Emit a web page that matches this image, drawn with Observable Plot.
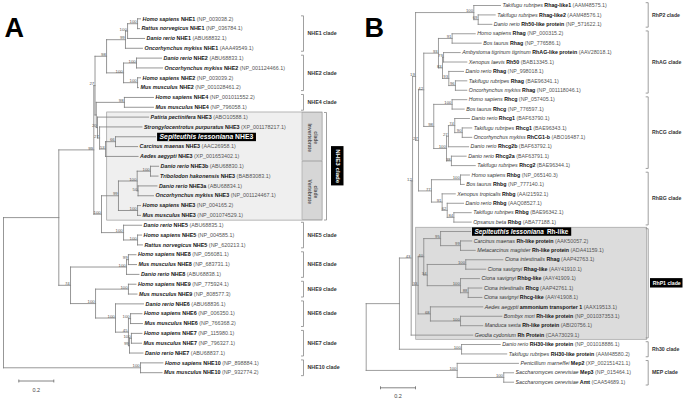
<!DOCTYPE html>
<html><head><meta charset="utf-8">
<script src="https://cdn.jsdelivr.net/npm/d3@7"></script>
<script src="https://cdn.jsdelivr.net/npm/@observablehq/plot@0.6"></script>
<style>
html,body{margin:0;padding:0;background:#fff;}
#wrap{position:relative;width:685px;height:403px;overflow:hidden;}
#wrap svg{position:absolute;top:0;}
</style></head><body><div id="wrap"></div>
<script>
// ---------- Panel A data ----------
const taxaA = [
["Homo sapiens","NHE1","NP_003038.2"],["Rattus norvegicus","NHE1","NP_036784.1"],["Danio rerio","NHE1","ABU68832.1"],["Oncorhynchus mykiss","NHE1","AAA49549.1"],
["Danio rerio","NHE2","ABU68833.1"],["Oncorhynchus mykiss","NHE2","NP_001124466.1"],["Homo sapiens","NHE2","NP_003039.2"],["Mus musculus","NHE2","NP_001028461.2"],
["Homo sapiens","NHE4","NP_001011552.2"],["Mus musculus","NHE4","NP_796058.1"],
["Patiria pectinifera","NHE3","ABO10588.1"],["Strongylocentrotus purpuratus","NHE3","XP_001178217.1"],["Sepiteuthis lessoniana","NHE3",""],["Carcinus maenas","NHE3","AAC26958.1"],["Aedes aegypti","NHE3","XP_001653402.1"],
["Danio rerio","NHE3b","ABU68830.1"],["Tribolodon hakonensis","NHE3","BAB83083.1"],["Danio rerio","NHE3a","ABU68834.1"],["Oncorhynchus mykiss","NHE3","NP_001124467.1"],["Homo sapiens","NHE3","NP_004165.2"],["Mus musculus","NHE3","NP_001074529.1"],
["Danio rerio","NHE5","ABU68835.1"],["Homo sapiens","NHE5","NP_004585.1"],["Rattus norvegicus","NHE5","NP_620213.1"],
["Homo sapiens","NHE8","NP_056081.1"],["Mus musculus","NHE8","NP_683731.1"],["Danio rerio","NHE8","ABU68838.1"],
["Homo sapiens","NHE9","NP_775924.1"],["Mus musculus","NHE9","NP_808577.3"],
["Danio rerio","NHE6","ABU68836.1"],["Homo sapiens","NHE6","NP_006350.1"],["Mus musculus","NHE6","NP_766368.2"],
["Homo sapiens","NHE7","NP_115980.1"],["Mus musculus","NHE7","NP_796327.1"],["Danio rerio","NHE7","ABU68837.1"],
["Homo sapiens","NHE10","NP_898884.1"],["Mus musculus","NHE10","NP_932774.2"]
];
const tipsA = [0.783,0.777,0.806,0.794,0.903,0.909,0.783,0.771,0.857,0.857,0.829,0.791,0.869,0.766,0.769,0.886,0.883,0.877,0.857,0.783,0.783,0.789,0.789,0.794,0.757,0.760,0.774,0.757,0.763,0.800,0.791,0.794,0.791,0.789,0.797,0.911,0.906];
const highlightA = 12;
// [id, depth, bootstrap, child1, child2]  (numbers = leaf index)
const nodesA = [
["a1",0.766,"100",0,1],["a2",0.709,"100","a1",2],["a3",0.697,"99","a2",3],
["b1",0.760,"100",4,5],["b2",0.766,"100",6,7],["b3",0.686,"100","b1","b2"],
["N12",0.589,"98","a3","b3"],["c1",0.691,"98",8,9],
["K1",0.640,"66",12,13],["K",0.583,"53","K1",14],["J",0.549,"27",11,"K"],["I",0.537,"20",10,"J"],
["Q",0.530,"","c1","I"],["T",0.523,"27","N12","Q"],
["v1",0.840,"100",15,16],["v2",0.769,"50",17,18],["v3",0.764,"100","v1","v2"],["v4",0.766,"100",19,20],["V",0.657,"99","v3","v4"],
["e1",0.766,"100",22,23],["E",0.686,"100",21,"e1"],["W",0.560,"100","V","E"],
["U",0.516,"99","T","W"],
["f1",0.714,"99",24,25],["F",0.703,"100","f1",26],["g",0.714,"100",27,28],
["h1",0.726,"100",30,31],["h2",0.731,"100",32,33],["h3",0.720,"99","h2",34],["h4",0.714,"45","h1","h3"],["H",0.640,"100",29,"h4"],
["G",0.526,"100","g","H"],["Lw",0.383,"74","F","G"],["Bg",0.316,"","U","Lw"],
["z",0.783,"100",35,36],["R",0,"","Bg","z"]
];
const cladesA = [["NHE1 clade",0,3],["NHE2 clade",4,7],["NHE4 clade",8,9],["NHE5 clade",21,23],["NHE8 clade",24,26],["NHE9 clade",27,28],["NHE6 clade",29,31],["NHE7 clade",32,34],["NHE10 clade",35,36]];
const nhe3A = ["NHE3 clade",10,20];
const subA = [["Invertebrate","clade",10,14],["Vertebrate","clade",15,20]];

// ---------- Panel B data ----------
const taxaB = [
["Takifugu rubripes","Rhag-like1","AAM48575.1"],["Takifugu rubripes","Rhag-like2","AAM48576.1"],["Danio rerio","Rh50-like protein","NP_571622.1"],
["Homo sapiens","Rhag","NP_000315.2"],["Bos taurus","Rhag","NP_776586.1"],["Ambystoma tigrinum tigrinum","RhAG-like protein","AAV28018.1"],["Xenopus laevis","Rh50","BAB13345.1"],["Danio rerio","Rhag","NP_998018.1"],["Takifugu rubripes","Rhag","BAE96341.1"],["Oncorhynchus mykiss","Rhag","NP_001118046.1"],
["Homo sapiens","Rhcg","NP_057405.1"],["Bos taurus","Rhcg","NP_776597.1"],["Danio rerio","Rhcg1","BAF63790.1"],["Takifugu rubripes","Rhcg1","BAE96343.1"],["Oncorhynchus mykiss","RhCG1-b","ABO16487.1"],["Danio rerio","Rhcg2b","BAF63792.1"],["Danio rerio","Rhcg2a","BAF63791.1"],["Takifugu rubripes","Rhcg2","BAE96344.1"],
["Homo sapiens","Rhbg","NP_065140.3"],["Bos taurus","Rhbg","NP_777140.1"],["Xenopus tropicalis","Rhbg","AAI21592.1"],["Danio rerio","Rhbg","AAQ08527.1"],["Takifugu rubripes","Rhbg","BAE96342.1"],["Opsanus beta","Rhbg","ABA77188.1"],
["Sepiteuthis lessoniana","Rh-like",""],["Carcinus maenas","Rh-like protein","AAK50057.2"],["Metacarcinus magister","Rh-like protein","ADA41159.1"],
["Ciona intestinalis","Rhag","AAP42763.1"],["Ciona savignyi","Rhag-like","AAY41910.1"],["Ciona savignyi","Rhbg-like","AAY41909.1"],["Ciona intestinalis","Rhcg","AAP42761.1"],["Ciona savignyi","Rhcg-like","AAY41908.1"],
["Aedes aegypti","ammonium transporter 1","AAX19513.1"],["Bombyx mori","Rh-like protein","NP_001037353.1"],["Manduca sexta","Rh-like protein","ABI20756.1"],["Geodia cydonium","Rh Protein","CAA73029.1"],
["Danio rerio","RH30-like protein","NP_001018886.1"],["Takifugu rubripes","RH30-like protein","AAM48580.2"],
["Penicillium marneffei","Mep2","XP_002151421.1"],["Saccharomyces cerevisiae","Mep3","NP_015464.1"],["Saccharomyces cerevisiae","Amt","CAA54689.1"]
];
const tipsB = [0.767,0.737,0.718,0.623,0.657,0.537,0.575,0.556,0.575,0.575,0.575,0.560,0.590,0.603,0.603,0.585,0.571,0.623,0.590,0.560,0.509,0.556,0.600,0.600,0.596,0.603,0.623,0.781,0.683,0.647,0.661,0.661,0.666,0.775,0.666,0.609,0.766,0.803,0.870,0.842,0.842];
const highlightB = 24;
const nodesB = [
["s1",0.640,"69",1,2],["P2",0.615,"100",0,"s1"],
["r1",0.491,"91",3,4],["r2",0.442,"79",5,6],["r3",0.510,"96",8,9],["r4",0.472,"93",7,"r3"],["r5",0.436,"83","r2","r4"],["AG",0.413,"93","r1","r5"],
["c1",0.491,"100",10,11],["c2",0.549,"90",13,14],["c3",0.506,"74",12,"c2"],["c4",0.470,"27","c3",15],["c5",0.487,"38",16,17],["c45",0.459,"100","c4","c5"],["CG",0.386,"98","c1","c45"],
["N42",0.329,"42","AG","CG"],
["b1",0.539,"100",18,19],["b2",0.501,"84",22,23],["b3",0.463,"62",21,"b2"],["b4",0.434,"91",20,"b3"],["BG",0.373,"77","b1","b4"],
["N27",0.299,"27","N42","BG"],["N19",0.282,"19","P2","N27"],
["p1",0.539,"99",25,26],["p2",0.425,"95",24,"p1"],["p3",0.569,"100",27,28],["p4",0.583,"88",30,31],["p5",0.539,"100",29,"p4"],["p6",0.349,"34","p3","p5"],["p7",0.329,"40","p2","p6"],
["q1",0.539,"100",33,34],["q2",0.367,"68",32,"q1"],["p8",0.297,"33","p7","q2"],
["S12",0.265,"12","N19","p8"],["A",0.257,"43","S12",35],
["h30",0.545,"100",36,37],["B43",0.190,"","A","h30"],
["m1",0.786,"100",39,40],["MEP",0.520,"100",38,"m1"],["R",0,"","B43","MEP"]
];
const cladesB = [["RhP2 clade",0,2],["RhAG clade",3,9],["RhCG clade",10,17],["RhBG clade",18,23],["Rh30 clade",36,37],["MEP clade",38,40]];
const rhp1B = ["RhP1 clade",24,35];
const scaleBarValue = 0.2;

// ---------- helpers ----------
const FONT = "'Liberation Sans', Arial, sans-serif";
const PXU = 175; // px per unit (0.2 = 35 px)
function layoutTree(tips, nodes) {
  const map = new Map(nodes.map(n => [n[0], n]));
  const memo = new Map();
  const yOf = c => {
    if (typeof c === "number") return c;
    if (memo.has(c)) return memo.get(c);
    const n = map.get(c); const v = (yOf(n[3]) + yOf(n[4])) / 2; memo.set(c, v); return v;
  };
  const dOf = c => typeof c === "number" ? tips[c] : map.get(c)[1];
  const segs = [], boots = [];
  for (const n of nodes) {
    segs.push({x1: n[1], y1: yOf(n[3]), x2: n[1], y2: yOf(n[4])});
    for (const c of [n[3], n[4]]) segs.push({x1: n[1], y1: yOf(c), x2: dOf(c), y2: yOf(c)});
    if (n[2]) boots.push({x: n[1], y: yOf(n[0]), t: n[2]});
  }
  return {segs, boots};
}
function bracketSegs(clades, bx, hook, pad) {
  const s = [];
  for (const c of clades) {
    const a = c[1] - pad, b = c[2] + pad;
    s.push({x1: bx - hook, y1: a, x2: bx, y2: a}, {x1: bx, y1: a, x2: bx, y2: b}, {x1: bx - hook, y1: b, x2: bx, y2: b});
  }
  return s;
}
const NS = "http://www.w3.org/2000/svg";
function rich(t, r, spAttrs, geneAttrs, sep) {
  while (t.firstChild) t.removeChild(t.firstChild);
  const add = (s, attrs) => { const ts = document.createElementNS(NS, "tspan"); ts.textContent = s; for (const k in attrs) ts.setAttribute(k, attrs[k]); t.appendChild(ts); };
  t.setAttribute("xml:space", "preserve");
  add(r[0], spAttrs);
  add((sep || " ") + r[1], geneAttrs);
  if (r[2]) add(" (" + r[2] + ")", {fill: "#555", "font-weight": "normal", "font-style": "normal"});
}
function postProcess(svg, taxa, hlIndex, spAttrs, geneAttrs, hlSep) {
  const lab = new Map(taxa.map((r, i) => [r.join(" "), i]));
  const hlKey = "\u200B" + taxa[hlIndex].slice(0, 2).join(" ");
  svg.querySelectorAll("text").forEach(t => {
    const s = t.textContent;
    if (s === hlKey) {
      rich(t, [taxa[hlIndex][0], taxa[hlIndex][1], ""], {"font-style": "italic", "font-weight": "bold", fill: "#fff"}, {"font-weight": "bold", fill: "#fff"}, hlSep);
      const bb = t.getBBox();
      const r = document.createElementNS(NS, "rect");
      r.setAttribute("x", bb.x - 2.5); r.setAttribute("y", bb.y - 0.2);
      r.setAttribute("width", bb.width + 5); r.setAttribute("height", bb.height + 0.4);
      r.setAttribute("fill", "#000");
      if (t.getAttribute("transform")) r.setAttribute("transform", t.getAttribute("transform"));
      t.parentNode.insertBefore(r, t);
    } else if (lab.has(s)) {
      rich(t, taxa[lab.get(s)], spAttrs, geneAttrs);
    }
  });
}
const wrap = document.getElementById("wrap");

// ---------- Panel A ----------
{
  const X0 = 3, Y0 = 18.3, DY = (372.2 - 18.3) / 36;
  const u = px => (px - X0) / PXU, iy = py => (py - Y0) / DY;
  const T = layoutTree(tipsA, nodesA);
  const rows = taxaA.map((r, i) => ({x: tipsA[i], y: i, label: r.join(" ")})).filter((d, i) => i !== highlightA);
  const hl = [{x: tipsA[highlightA], y: highlightA, label: "\u200B" + taxaA[highlightA].slice(0, 2).join(" ")}];
  const bx = u(303), hook = 2.5 / PXU;
  const nb = nhe3A;
  const sbY = iy(380.5), sbX = u(18.3);
  const svg = Plot.plot({
    width: 345, height: 403, margin: 0,
    x: {domain: [0, 1], range: [X0, X0 + PXU], axis: null},
    y: {domain: [0, 36], range: [Y0, 372.2], axis: null},
    style: {fontFamily: FONT, background: "transparent", overflow: "visible"},
    marks: [
      Plot.rect([nb], {x1: u(106.7), x2: u(322), y1: d => d[1] - 0.47, y2: d => d[2] + 0.53, fill: "#efefef", stroke: "#9a9a9a", strokeWidth: 0.7}),
      Plot.rect(subA, {x1: u(302), x2: u(322), y1: d => d[2] - 0.42, y2: d => d[3] + 0.45, fill: "#d6d6d6", stroke: "#a0a0a0", strokeWidth: 0.6}),
      Plot.text(subA, {x: u(309.5), y: d => (d[2] + d[3]) / 2 + 0.1, text: d => d[0], rotate: 90, fontSize: 5, fontWeight: "bold", fill: "#555"}),
      Plot.text(subA, {x: u(315.5), y: d => (d[2] + d[3]) / 2 + 0.1, text: d => d[1], rotate: 90, fontSize: 5, fontWeight: "bold", fill: "#555"}),
      Plot.link(T.segs, {x1: "x1", y1: "y1", x2: "x2", y2: "y2", stroke: "#7c7c7c", strokeWidth: 0.8, strokeLinecap: "square"}),
      Plot.text(rows, {x: "x", y: "y", text: "label", dx: 2, textAnchor: "start", fontSize: 5.4, fill: "#222"}),
      Plot.text(hl, {x: "x", y: "y", text: "label", dx: 4, textAnchor: "start", fontSize: 6.8, fill: "#fff"}),
      Plot.text(T.boots, {x: "x", y: "y", text: "t", textAnchor: "end", lineAnchor: "bottom", dx: -0.8, dy: -0.3, fontSize: 4.3, fill: "#555"}),
      Plot.link(bracketSegs(cladesA, bx, hook, 0.3), {x1: "x1", y1: "y1", x2: "x2", y2: "y2", stroke: "#888", strokeWidth: 0.8}),
      Plot.text(cladesA, {x: u(307), y: d => (d[1] + d[2]) / 2, text: d => d[0], textAnchor: "start", fontSize: 5.3, fontWeight: "bold", fill: "#333"}),
      Plot.link(bracketSegs([nb], u(326), hook, 0.47), {x1: "x1", y1: "y1", x2: "x2", y2: "y2", stroke: "#888", strokeWidth: 0.8}),
      Plot.rect([nb], {x1: u(331), x2: u(343.5), y1: d => (d[1] + d[2]) / 2 - 2.0, y2: d => (d[1] + d[2]) / 2 + 2.0, fill: "#000"}),
      Plot.text([nb], {x: u(337.2), y: d => (d[1] + d[2]) / 2, text: d => d[0], rotate: 90, fontSize: 6.2, fontWeight: "bold", fill: "#fff"}),
      Plot.link([scaleBarValue], {x1: sbX, x2: d => sbX + d, y1: sbY, y2: sbY, stroke: "#666", strokeWidth: 0.8}),
      Plot.link([0, scaleBarValue], {x1: d => sbX + d, x2: d => sbX + d, y1: sbY - 0.15, y2: sbY + 0.15, stroke: "#666", strokeWidth: 0.8}),
      Plot.text([scaleBarValue], {x: d => sbX + d / 2, y: iy(389.5), text: d => String(d), fontSize: 5.5, fill: "#444"}),
      Plot.text(["A"], {x: u(4), y: iy(28), text: d => d, textAnchor: "start", fontSize: 27, fontWeight: "bold", fill: "#000"})
    ]
  });
  svg.style.left = "0px";
  wrap.appendChild(svg);
  postProcess(svg, taxaA, highlightA, {"font-style": "italic", "font-weight": "bold", fill: "#222"}, {"font-weight": "bold", fill: "#111"});
}

// ---------- Panel B ----------
{
  const OFF = 345, X0 = 365.7 - OFF, Y0 = 5, DY = (381.7 - 5) / 40;
  const u = px => (px - OFF - X0) / PXU, iy = py => (py - Y0) / DY;
  const T = layoutTree(tipsB, nodesB);
  const rows = taxaB.map((r, i) => ({x: tipsB[i], y: i, label: r.join(" ")})).filter((d, i) => i !== highlightB);
  const hl = [{x: tipsB[highlightB], y: highlightB, label: "\u200B" + taxaB[highlightB].slice(0, 2).join(" ")}];
  const bx = u(647.7), hook = 2.5 / PXU;
  const rb = rhp1B;
  const sbY = iy(387.3), sbX = u(380);
  const svg = Plot.plot({
    width: 340, height: 403, margin: 0,
    x: {domain: [0, 1], range: [X0, X0 + PXU], axis: null},
    y: {domain: [0, 40], range: [Y0, 381.7], axis: null},
    style: {fontFamily: FONT, background: "transparent", overflow: "visible"},
    marks: [
      Plot.rect([rb], {x1: u(415.7), x2: u(646.7), y1: d => d[1] - 0.4, y2: d => d[2] + 0.5, fill: "#dcdcdc", stroke: "#a0a0a0", strokeWidth: 0.7}),
      Plot.link(T.segs, {x1: "x1", y1: "y1", x2: "x2", y2: "y2", stroke: "#858585", strokeWidth: 0.8, strokeLinecap: "square"}),
      Plot.text(rows, {x: "x", y: "y", text: "label", dx: 2, textAnchor: "start", fontSize: 5.3, fill: "#333"}),
      Plot.text(hl, {x: "x", y: "y", text: "label", dx: 4, textAnchor: "start", fontSize: 6.4, fill: "#fff"}),
      Plot.text(T.boots, {x: "x", y: "y", text: "t", textAnchor: "end", lineAnchor: "bottom", dx: -0.8, dy: -0.3, fontSize: 4.2, fill: "#555"}),
      Plot.link(bracketSegs([...cladesB, rb], bx, hook, 0.3), {x1: "x1", y1: "y1", x2: "x2", y2: "y2", stroke: "#888", strokeWidth: 0.8}),
      Plot.text(cladesB, {x: u(651.5), y: d => (d[1] + d[2]) / 2, text: d => d[0], textAnchor: "start", fontSize: 5.2, fontWeight: "bold", fill: "#333"}),
      Plot.rect([rb], {x1: u(650), x2: u(682.5), y1: d => (d[1] + d[2]) / 2 - 0.5, y2: d => (d[1] + d[2]) / 2 + 0.5, fill: "#000"}),
      Plot.text([rb], {x: u(666.2), y: d => (d[1] + d[2]) / 2, text: d => d[0], fontSize: 5.2, fontWeight: "bold", fill: "#fff"}),
      Plot.link([scaleBarValue], {x1: sbX, x2: d => sbX + d, y1: sbY, y2: sbY, stroke: "#666", strokeWidth: 0.8}),
      Plot.link([0, scaleBarValue], {x1: d => sbX + d, x2: d => sbX + d, y1: sbY - 0.16, y2: sbY + 0.16, stroke: "#666", strokeWidth: 0.8}),
      Plot.text([scaleBarValue], {x: d => sbX + d / 2, y: iy(396), text: d => String(d), fontSize: 5.5, fill: "#444"}),
      Plot.text(["B"], {x: u(364), y: iy(28), text: d => d, textAnchor: "start", fontSize: 27, fontWeight: "bold", fill: "#000"})
    ]
  });
  svg.style.left = OFF + "px";
  wrap.appendChild(svg);
  postProcess(svg, taxaB, highlightB, {"font-style": "italic", fill: "#333"}, {"font-weight": "bold", fill: "#111"}, "\u2002");
}
</script></body></html>
